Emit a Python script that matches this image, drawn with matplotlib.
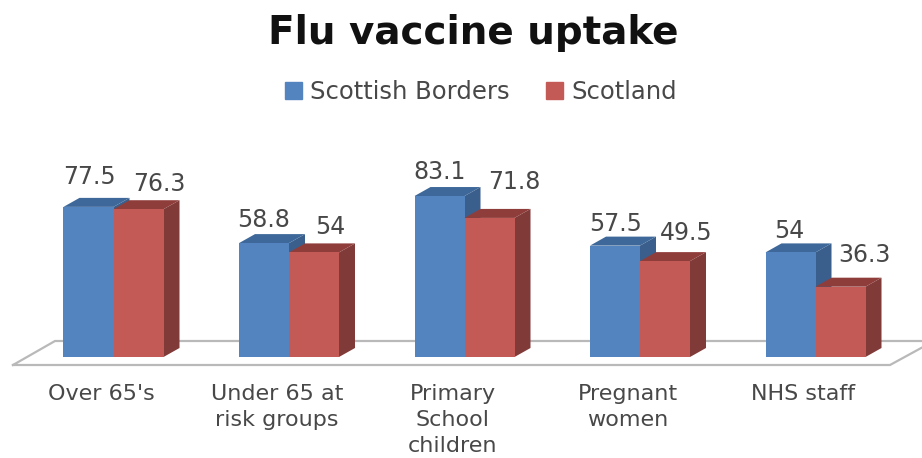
import numpy as np
import matplotlib
matplotlib.use('Agg')
import matplotlib.pyplot as plt
from matplotlib.patches import Polygon, Patch

categories = ["Over 65's", "Under 65 at\nrisk groups", "Primary\nSchool\nchildren", "Pregnant\nwomen", "NHS staff"]
borders = [77.5, 58.8, 83.1, 57.5, 54]
scotland = [76.3, 54, 71.8, 49.5, 36.3]

plt.rcParams['font.family'] = ['DejaVu Sans']

W, H = 922, 458
px_x = 175.5      # pixels per category
px_y = 1.937      # pixels per value unit
x0_px = 113.5     # first category centre
y0_px = 357       # baseline from top

bar_w = 50 / px_x
dx = 16 / px_x
dy = 9 / px_y

BLUE = ('#5484bf', '#3d6899', '#3a5f8c')
RED = ('#c45a55', '#8f3d3a', '#803a38')
TEXT = '#484848'


def bar3d(ax, x, h, cols, z):
    ax.bar(x, h, bar_w, align='edge', color=cols[0], linewidth=0, zorder=z + 0.2)
    ax.add_patch(Polygon([(x, h), (x + bar_w, h), (x + bar_w + dx, h + dy), (x + dx, h + dy)],
                         facecolor=cols[1], edgecolor='none', zorder=z + 0.1))
    ax.add_patch(Polygon([(x + bar_w, 0), (x + bar_w + dx, dy), (x + bar_w + dx, h + dy), (x + bar_w, h)],
                         facecolor=cols[2], edgecolor='none', zorder=z))


fig = plt.figure(figsize=(W / 100, H / 100), dpi=100)
ax = fig.add_axes([0, 0, 1, 1])
ax.set_xlim(-x0_px / px_x, (W - x0_px) / px_x)
ax.set_ylim(-(H - y0_px) / px_y, y0_px / px_y)
ax.axis('off')

# floor of the 3d plot
fx = lambda p: (p - x0_px) / px_x
fy = lambda p: (y0_px - p) / px_y
ax.plot([fx(13), fx(890), fx(934), fx(55), fx(13)],
        [fy(365), fy(365), fy(341), fy(341), fy(365)],
        color='#b9b9b9', lw=1.6, solid_joinstyle='miter', zorder=1, clip_on=True)

# label offsets in pixels, from the top of the front face
blue_off = [(1, 30), (0, 23), (0, 24), (1, 22), (-1, 21)]
red_off = [(21, 25), (16, 25), (25, 36), (21, 28), (24, 32)]

for i in range(len(categories)):
    bar3d(ax, i - bar_w, borders[i], BLUE, 2 + i * 2)
    bar3d(ax, i, scotland[i], RED, 3 + i * 2)
    ax.annotate(str(borders[i]), (i - bar_w / 2, borders[i]), xytext=blue_off[i],
                textcoords='offset pixels', ha='center', va='center', fontsize=17, color=TEXT, zorder=30)
    ax.annotate(str(scotland[i]), (i + bar_w / 2, scotland[i]), xytext=red_off[i],
                textcoords='offset pixels', ha='center', va='center', fontsize=17, color=TEXT, zorder=30)
    ax.annotate(categories[i], (i, 0), xytext=(-12, -(384 - y0_px)), textcoords='offset pixels',
                ha='center', va='top', fontsize=16, color=TEXT, linespacing=1.38, zorder=30)

fig.text(473 / W, 1 - 33 / H, 'Flu vaccine uptake', ha='center', va='center',
         fontsize=28, fontweight='bold', color='#111111')

handles = [Patch(color=BLUE[0], label='Scottish Borders'), Patch(color=RED[0], label='Scotland')]
fig.legend(handles=handles, loc='center', bbox_to_anchor=(481 / W, 1 - 92 / H), ncol=2, frameon=False,
           fontsize=17.5, labelcolor=TEXT, handlelength=0.7, handleheight=0.7, handletextpad=0.33,
           columnspacing=1.5)

fig.savefig('out.png', dpi=100)
